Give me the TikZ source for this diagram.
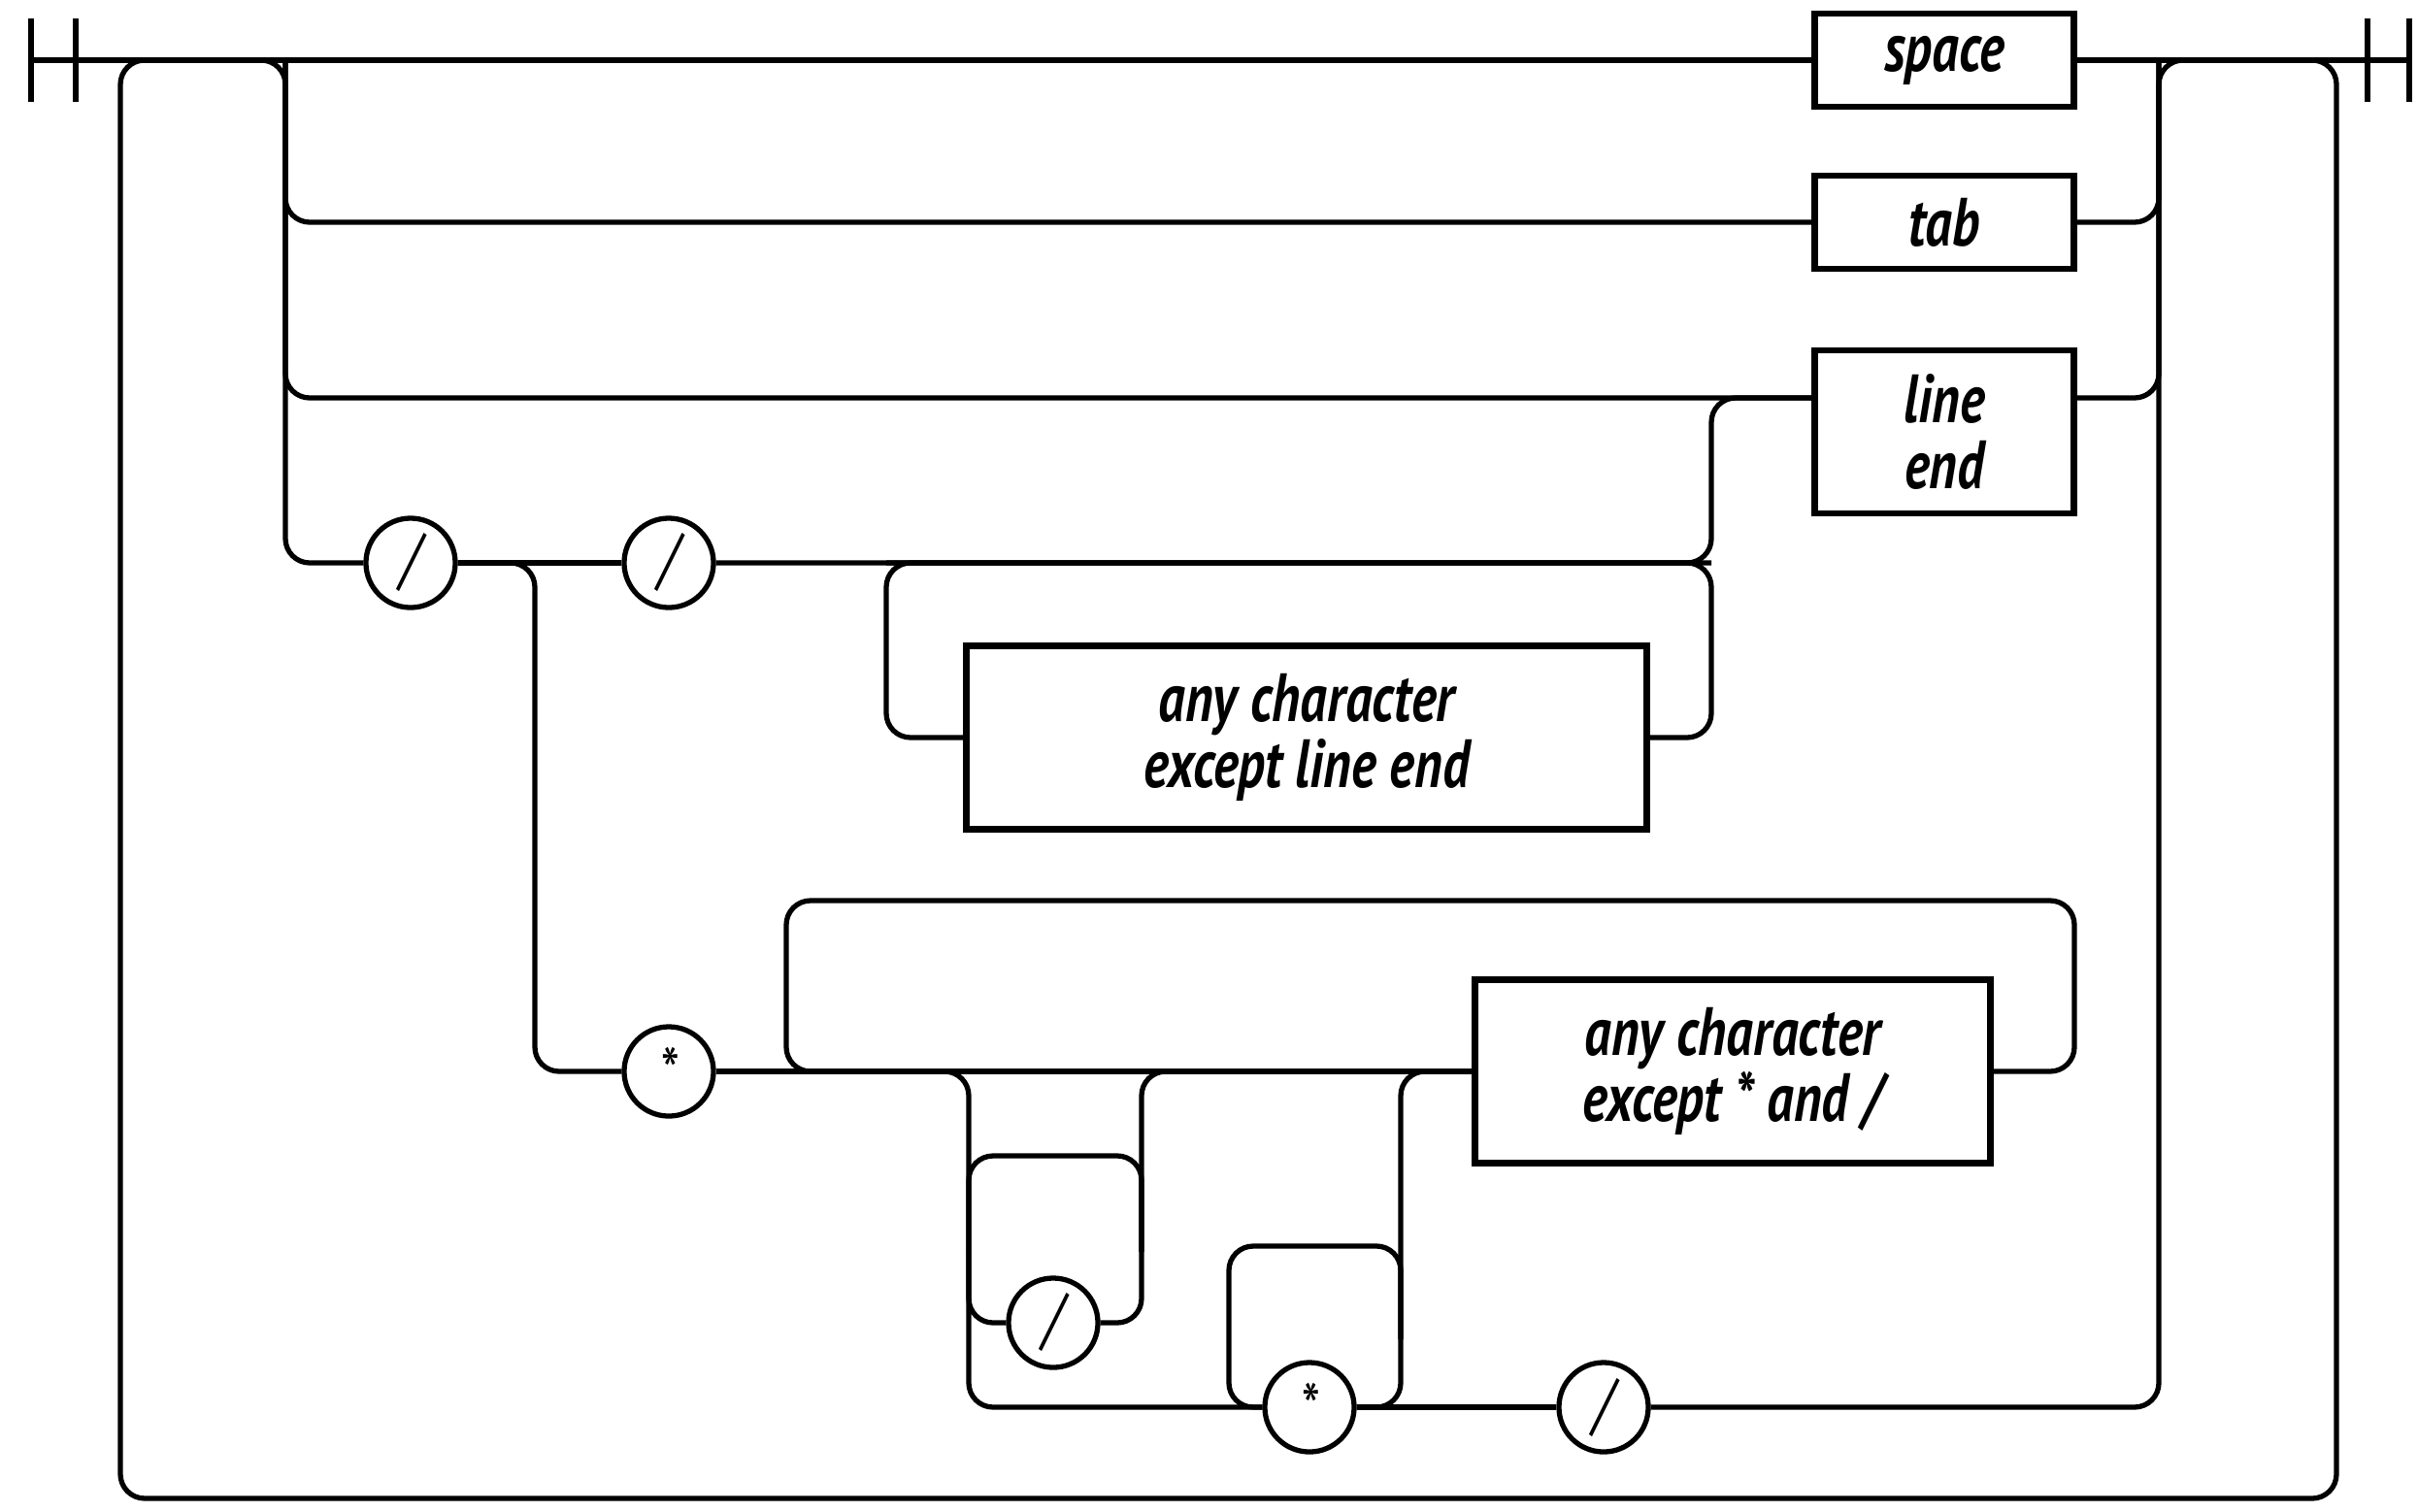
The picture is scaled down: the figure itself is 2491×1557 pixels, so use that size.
\documentclass[tikz,border=0pt]{standalone}
\usepackage{fontspec}
\newfontfamily\railfont[FakeStretch=0.78]{PT Sans}
\usepackage{tikz}
\tikzset{
  rtrack/.style={line width=1.5pt, draw=black, rounded corners=0.25cm},
  rbar/.style={line width=1.5pt, draw=black},
  rbox/.style={draw=black, line width=1.9pt, fill=white, inner sep=0pt, align=center,
    font=\railfont\bfseries\itshape\fontsize{20}{19.5}\selectfont},
  rtok/.style={circle, draw=black, line width=1.5pt, fill=white, minimum size=0.92cm,
    inner sep=0pt, font=\railfont\itshape\fontsize{20}{19.5}\selectfont},
}

\begin{document}
\begin{tikzpicture}[x=0.01cm, y=-0.01cm]
\useasboundingbox (0,0) rectangle (2491,1557);
% terminals
\node[rbox, minimum width=2.67cm, minimum height=0.96cm] (space) at (2003,62) {space};
\node[rbox, minimum width=2.67cm, minimum height=0.96cm] (tab) at (2003,229) {tab};
\node[rbox, minimum width=2.67cm, minimum height=1.68cm] (lineend) at (2003,445) {line\\end};
\node[rbox, minimum width=7.01cm, minimum height=1.89cm] (notend) at (1346,760) {any character\\except line end};
\node[rbox, minimum width=5.31cm, minimum height=1.89cm] (notstar) at (1785,1104) {any character\\except * and /};
\node[rtok] (sla) at (423,580) {/};
\node[rtok] (slb) at (689,580) {/};
\node[rtok] (sta) at (689,1104) {*};
\node[rtok] (slc) at (1085,1363) {/};
\node[rtok] (stb) at (1349,1450) {*};
\node[rtok] (sld) at (1652,1450) {/};
% junctions
\coordinate (in) at (32,62);
\coordinate (out) at (2482,62);
\coordinate (loopL) at (124,62);
\coordinate (loopR) at (2407,62);
\coordinate (loopB) at (0,1544);
\coordinate (forkL) at (294,62);
\coordinate (forkR) at (2224,62);
\coordinate (rLE) at (0,410);
\coordinate (cA) at (551,580);
\coordinate (cB) at (913,580);
\coordinate (cC) at (1763,580);
\coordinate (bigL) at (810,928);
\coordinate (bigR) at (2137,928);
\coordinate (dA) at (998,1104);
\coordinate (dB) at (1176,1104);
\coordinate (dC) at (1443,1104);
\coordinate (slL) at (998,1290);
\coordinate (slR) at (1176,1290);
\coordinate (slT) at (0,1191);
\coordinate (stR) at (1443,1380);
\coordinate (stTL) at (1266,1284);
% start and end bars
\draw[rbar] (in) ++(0,-43) -- ++(0,86);
\draw[rbar] (in) ++(46,-43) -- ++(0,86);
\draw[rbar] (out) ++(0,-43) -- ++(0,86);
\draw[rbar] (out) ++(-43,-43) -- ++(0,86);
\draw[rtrack] (in) -- (space);
\draw[rtrack] (space) -- (out);
% repeat loop round everything
\draw[rtrack] (forkR) -| (loopR |- loopB) -| (loopL) -- (forkL);
% whitespace choices
\draw[rtrack] (loopL) -| (forkL |- sla) -- (sla);
\draw[rtrack] (forkL) |- (tab);
\draw[rtrack] (forkL) |- (lineend.west |- rLE);
\draw[rtrack] (tab) -| (forkR);
\draw[rtrack] (lineend.east |- rLE) -| (forkR);
\draw[rtrack] (sld) -| (forkR) -- (loopR);
% line comment
\draw[rtrack] (sla) -- (slb);
\draw[rtrack] (slb) -| (cC |- rLE) -- (lineend.west |- rLE);
\draw[rtrack] (cC) -| (cB |- notend) -- (notend);
\draw[rtrack] (notend) -| (cC) -- (cB);
% block comment
\draw[rtrack] (sla) -| (cA |- sta) -- (sta);
\draw[rtrack] (sta) -- (notstar);
\draw[rtrack] (notstar) -| (bigR) -| (bigL |- sta) -- (dA);
\draw[rtrack] (bigL |- sta) -| (dA |- stb) -- (stb);
\draw[rtrack] (slL) |- (slc);
\draw[rtrack] (slc) -| (dB) -- (notstar);
\draw[rtrack] (slL) |- (slR |- slT) -- (slR);
\draw[rtrack] (stb) -| (dC) -- (notstar);
\draw[rtrack] (stR) |- (stTL) |- (stb);
\draw[rtrack] (stb) -- (sld);
\end{tikzpicture}
\end{document}
